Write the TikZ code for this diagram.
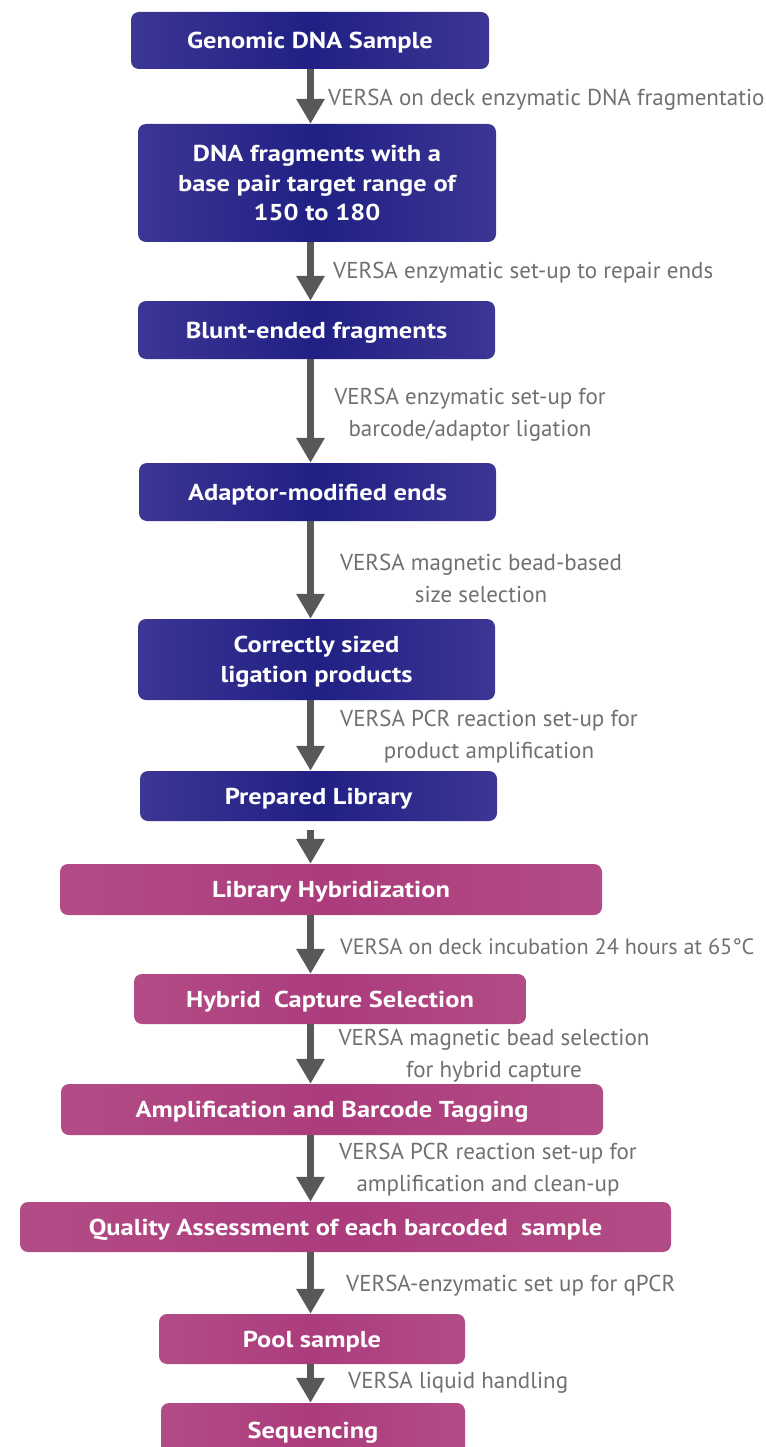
\documentclass[tikz,border=0pt]{standalone}
\usepackage{fontspec}
\setmainfont{PT Sans}
\newfontfamily\boxfont{PT Sans}[FakeStretch=1.15]
\usetikzlibrary{arrows.meta, calc}
\definecolor{NavyMid}{RGB}{32,32,132}
\definecolor{NavyEdge}{RGB}{60,54,148}
\definecolor{PinkMid}{RGB}{172,60,124}
\definecolor{PinkEdge}{RGB}{178,76,134}
\definecolor{ArrowGrey}{RGB}{88,88,90}
\definecolor{LabelGrey}{RGB}{112,112,114}
\tikzset{
    navy-box/.style={
        rectangle, rounded corners=8pt, inner sep=0pt, align=center, text depth=0pt,
        left color=NavyEdge, right color=NavyEdge, middle color=NavyMid,
        text=white, font=\boxfont\bfseries\fontsize{23}{29.5}\selectfont
    },
    pink-box/.style={
        rectangle, rounded corners=8pt, inner sep=0pt, align=center, text depth=0pt,
        left color=PinkEdge, right color=PinkEdge, middle color=PinkMid,
        text=white, font=\boxfont\bfseries\fontsize{23}{29.5}\selectfont
    },
    step-arrow/.style={
        draw=ArrowGrey, line width=6.5pt, -{Triangle[width=27pt, length=25pt]}
    },
    step-label/.style={
        text=LabelGrey, align=center, inner sep=0pt,
        font=\fontsize{23}{32}\selectfont
    },
}
\begin{document}
\begin{tikzpicture}[x=1pt, y=-1pt]
        \useasboundingbox (0,0) rectangle (765,1447);

        % PREPARATION STEPS
        \node[navy-box, minimum width=358pt, minimum height=57pt]  (GDNA)  at (310,40.5)   {Genomic DNA Sample};
        \node[navy-box, minimum width=358pt, minimum height=118pt] (FRAG)  at (317,183)    {DNA fragments with a\\ base pair target range of\\ 150 to 180};
        \node[navy-box, minimum width=357pt, minimum height=58pt]  (BLUNT) at (316.5,330)  {Blunt-ended fragments};
        \node[navy-box, minimum width=357pt, minimum height=58pt]  (ADAPT) at (317.5,492)  {Adaptor-modified ends};
        \node[navy-box, minimum width=357pt, minimum height=81pt]  (SIZED) at (316.5,659.5) {Correctly sized\\ ligation products};
        \node[navy-box, minimum width=357pt, minimum height=50pt]  (PREP)  at (318.5,796)  {Prepared Library};

        % CAPTURE STEPS
        \node[pink-box, minimum width=542pt, minimum height=51pt]  (HYB)   at (331,889.5)  {Library Hybridization};
        \node[pink-box, minimum width=392pt, minimum height=50pt]  (CAPT)  at (330,999)    {Hybrid\ \ Capture Selection};
        \node[pink-box, minimum width=542pt, minimum height=51pt]  (AMPL)  at (332,1109.5) {Amplification and Barcode Tagging};
        \node[pink-box, minimum width=651pt, minimum height=50pt]  (QUAL)  at (345.5,1227) {Quality Assessment of each barcoded\ \ sample};
        \node[pink-box, minimum width=306pt, minimum height=50pt]  (POOL)  at (312,1339)   {Pool sample};
        \node[pink-box, minimum width=304pt, minimum height=54pt]  (SEQ)   at (313,1430)   {Sequencing};

        % ARROWS
        \coordinate (SPINE) at (310.5,0);
        \draw[step-arrow] (GDNA.south -| SPINE)  -- (FRAG.north -| SPINE);
        \draw[step-arrow] (FRAG.south -| SPINE)  -- (BLUNT.north -| SPINE);
        \draw[step-arrow] (BLUNT.south -| SPINE) -- (ADAPT.north -| SPINE);
        \draw[step-arrow] (ADAPT.south -| SPINE) -- (SIZED.north -| SPINE);
        \draw[step-arrow] (SIZED.south -| SPINE) -- (PREP.north -| SPINE);
        \draw[step-arrow, shorten <=9pt] (PREP.south -| SPINE) -- (HYB.north -| SPINE);
        \draw[step-arrow] (HYB.south -| SPINE)   -- (CAPT.north -| SPINE);
        \draw[step-arrow] (CAPT.south -| SPINE)  -- (AMPL.north -| SPINE);
        \draw[step-arrow] (AMPL.south -| SPINE)  -- (QUAL.north -| SPINE);
        \draw[step-arrow] (QUAL.south -| SPINE)  -- (POOL.north -| SPINE);
        \draw[step-arrow] (POOL.south -| SPINE)  -- (SEQ.north -| SPINE);

        % VERSA LABELS
        \node[step-label, anchor=west] (L1)  at (328,100)  {VERSA on deck enzymatic DNA fragmentatio};
        \node[step-label, anchor=west] (L2)  at (333,273)  {VERSA enzymatic set-up to repair ends};
        \node[step-label]              (L3)  at (470,415)  {VERSA enzymatic set-up for\\ barcode/adaptor ligation};
        \node[step-label]              (L4)  at (481,578)  {VERSA magnetic bead-based\\ size selection};
        \node[step-label]              (L5)  at (489,737)  {VERSA PCR reaction set-up for\\ product amplification};
        \node[step-label, anchor=west, font=\fontsize{22.2}{32}\selectfont] (L6) at (340,947) {VERSA on deck incubation 24 hours at 65°C};
        \node[step-label]              (L7)  at (494,1056) {VERSA magnetic bead selection\\ for hybrid capture};
        \node[step-label]              (L8)  at (488,1170) {VERSA PCR reaction set-up for\\ amplification and clean-up};
        \node[step-label, anchor=west] (L9)  at (346,1286) {VERSA-enzymatic set up for qPCR};
        \node[step-label, anchor=west] (L10) at (348,1383) {VERSA liquid handling};

    \end{tikzpicture}
\end{document}
